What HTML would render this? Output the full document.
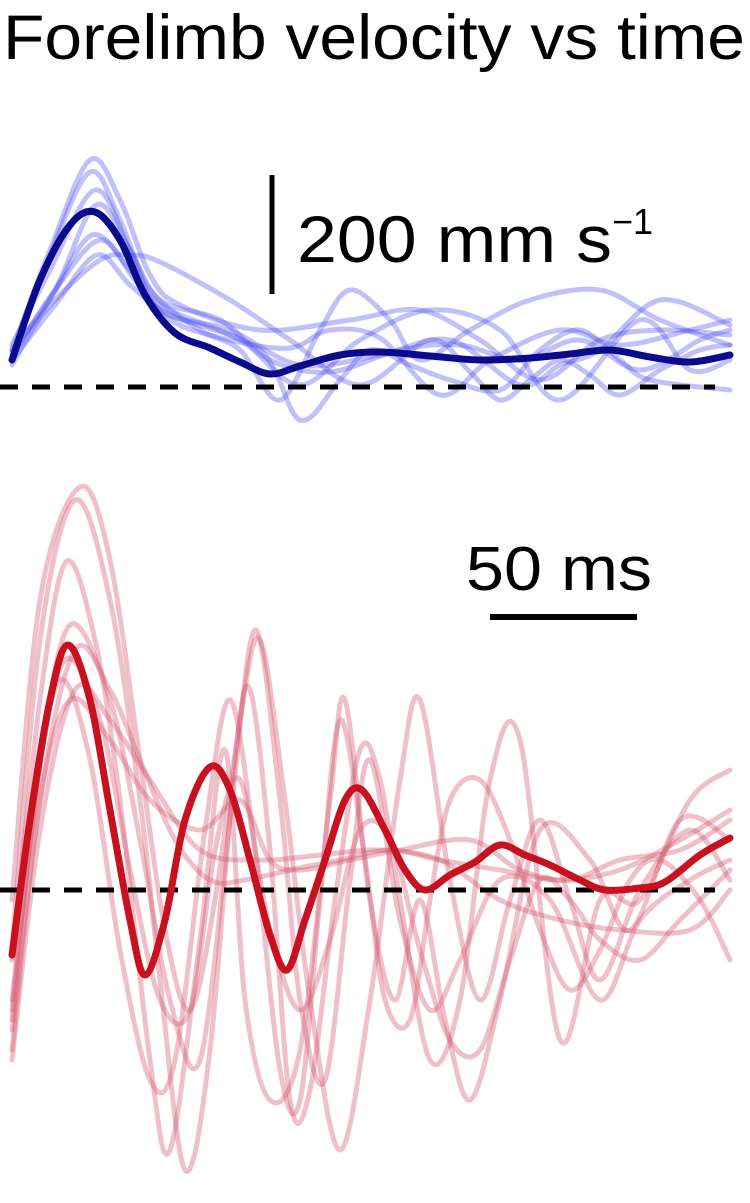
<!DOCTYPE html>
<html><head><meta charset="utf-8"><style>
html,body{margin:0;padding:0;background:#fff;}
svg{display:block;}
</style></head><body>
<svg id="s" width="750" height="1203" viewBox="0 0 750 1203" xmlns="http://www.w3.org/2000/svg" font-family="Liberation Sans, sans-serif">
<rect width="750" height="1203" fill="#fff"/>
<text x="3" y="59" font-size="63" textLength="742" lengthAdjust="spacingAndGlyphs" fill="#000">Forelimb velocity vs time</text>
<g id="blue" fill="none" stroke="#4a4af0" stroke-opacity="0.35" stroke-width="5" stroke-linejoin="round" stroke-linecap="round"></g>
<g id="red" fill="none" stroke="#d45a72" stroke-opacity="0.38" stroke-width="5" stroke-linejoin="round" stroke-linecap="round"></g>
<line x1="0" y1="387" x2="715" y2="387" stroke="#000" stroke-width="5" stroke-dasharray="18,14"/>
<line x1="0" y1="890" x2="715" y2="890" stroke="#000" stroke-width="5" stroke-dasharray="18,14"/>
<g id="main" fill="none" stroke-width="7" stroke-linejoin="round" stroke-linecap="round"></g>
<line x1="272" y1="175" x2="272" y2="294" stroke="#000" stroke-width="5"/>
<text x="297" y="262" font-size="66" textLength="315" lengthAdjust="spacingAndGlyphs" fill="#000">200 mm s</text>
<text x="612" y="234" font-size="36" fill="#000">−1</text>
<text x="466" y="590" font-size="62" textLength="186" lengthAdjust="spacingAndGlyphs" fill="#000">50 ms</text>
<line x1="490" y1="617" x2="637" y2="617" stroke="#000" stroke-width="6"/>
</svg>
<script>
function cr(p){var d="M"+p[0][0]+","+p[0][1];for(var i=0;i<p.length-1;i++){var p0=p[i-1]||p[i],p1=p[i],p2=p[i+1],p3=p[i+2]||p2;
d+=" C"+(p1[0]+(p2[0]-p0[0])/6)+","+(p1[1]+(p2[1]-p0[1])/6)+" "+(p2[0]-(p3[0]-p1[0])/6)+","+(p2[1]-(p3[1]-p1[1])/6)+" "+p2[0]+","+p2[1];}return d;}
function P(s){return s.trim().split(/\s+/).map(function(t){return t.split(",").map(Number);});}
function add(g,s,attrs){var e=document.createElementNS("http://www.w3.org/2000/svg","path");e.setAttribute("d",cr(P(s)));if(attrs)for(var k in attrs)e.setAttribute(k,attrs[k]);document.getElementById(g).appendChild(e);}
var blue=[
"12,350 50,250 90,160 120,200 150,275 180,305 260,330 350,320 420,310 480,340 540,380 600,340 660,330 730,335",
"12,355 50,255 90,172 120,220 150,290 200,330 240,350 280,400 320,330 350,290 390,320 420,360 470,330 530,300 600,290 660,320 730,345",
"12,345 50,270 95,190 130,250 160,310 230,330 300,365 380,355 450,340 520,385 560,365 600,350 660,300 730,325",
"12,365 50,300 92,235 130,270 160,305 240,340 300,385 360,340 430,310 500,330 560,400 640,320 690,370 730,360",
"12,360 55,305 97,255 130,285 170,315 260,350 300,420 340,380 370,350 410,365 450,380 500,390 540,350 580,330 620,360 650,380 730,390",
"12,350 55,300 100,260 130,255 160,262 230,300 290,340 360,385 430,340 470,372 500,400 530,380 560,360 590,375 620,395 660,370 700,350 730,345",
"12,352 55,290 96,205 130,250 160,300 220,320 270,360 330,372 400,350 460,345 520,360 580,340 640,370 700,340 730,330",
"12,356 55,290 100,240 135,280 170,320 230,340 290,348 330,330 380,338 440,395 490,360 560,330 620,345 690,330 730,320"
];
blue.forEach(function(s){add("blue",s);});
var red=[
"12,900 40,600 80,487 110,560 140,760 165,930 190,1010 215,900 240,720 260,640 285,800 310,1000 340,1150 370,1000 400,780 420,700 450,880 480,1000 510,900 540,820 570,900 600,980 640,890 690,830 730,880",
"12,950 40,640 75,500 110,600 140,800 160,980 185,1170 210,1050 235,760 250,690 270,850 290,1100 310,1090 335,900 360,750 380,780 400,900 430,1060 460,1000 490,780 520,740 560,1040 600,900 640,900 690,800 730,770",
"12,960 40,700 66,562 95,640 120,800 150,1060 170,1150 200,940 225,750 245,1000 270,1100 300,1050 330,800 345,700 370,900 395,1000 420,900 445,1020 470,1100 500,1000 540,830 590,860 630,930 680,820 730,840",
"12,1000 40,760 70,625 110,700 140,840 170,1000 200,1060 230,820 255,630 280,800 300,1000 325,1080 350,880 370,760 400,920 430,1010 460,960 500,880 550,900 600,1000 640,920 690,880 730,860",
"12,1050 40,800 75,650 110,690 140,760 175,840 210,880 245,880 290,870 340,860 390,850 440,860 500,870 560,880 620,870 680,840 730,810",
"12,1030 40,800 70,700 110,740 150,800 200,830 240,800 270,860 300,870 350,860 400,850 470,840 520,870 570,880 620,860 680,850 730,820",
"12,1060 40,830 75,690 110,720 150,780 200,850 260,860 320,855 380,850 440,860 500,900 560,920 620,930 690,930 730,890",
"12,1020 35,800 60,680 90,760 120,950 150,1080 175,1060 205,830 230,700 255,850 280,1070 300,1100 320,900 340,720 365,860 385,1000 410,1020 430,900 450,800 480,780 510,840 540,930 570,990 600,950 630,880 660,860 700,900 730,960",
"12,1010 38,780 65,660 100,720 130,870 160,1000 190,1010 215,850 240,780 270,930 300,1010 330,940 360,830 390,840 420,950 450,1040 480,1050 510,960 540,880 570,900 600,940 640,960 680,920 730,870"
];
red.forEach(function(s){add("red",s);});
add("main","12,360 40,280 70,225 95,212 120,240 145,295 175,333 210,348 240,362 270,374 300,366 340,355 380,352 430,356 480,360 530,358 570,354 610,350 650,357 690,362 730,355",{stroke:"#0a0a8c"});
add("main","12,955 30,820 50,700 68,645 90,700 110,810 130,920 145,975 165,920 185,820 210,767 230,790 250,860 270,935 287,970 305,920 325,860 345,800 362,790 385,830 405,870 425,890 450,875 475,862 500,845 525,855 550,865 580,880 605,890 640,888 665,882 700,855 730,838",{stroke:"#c8101e"});
</script>
</body></html>
